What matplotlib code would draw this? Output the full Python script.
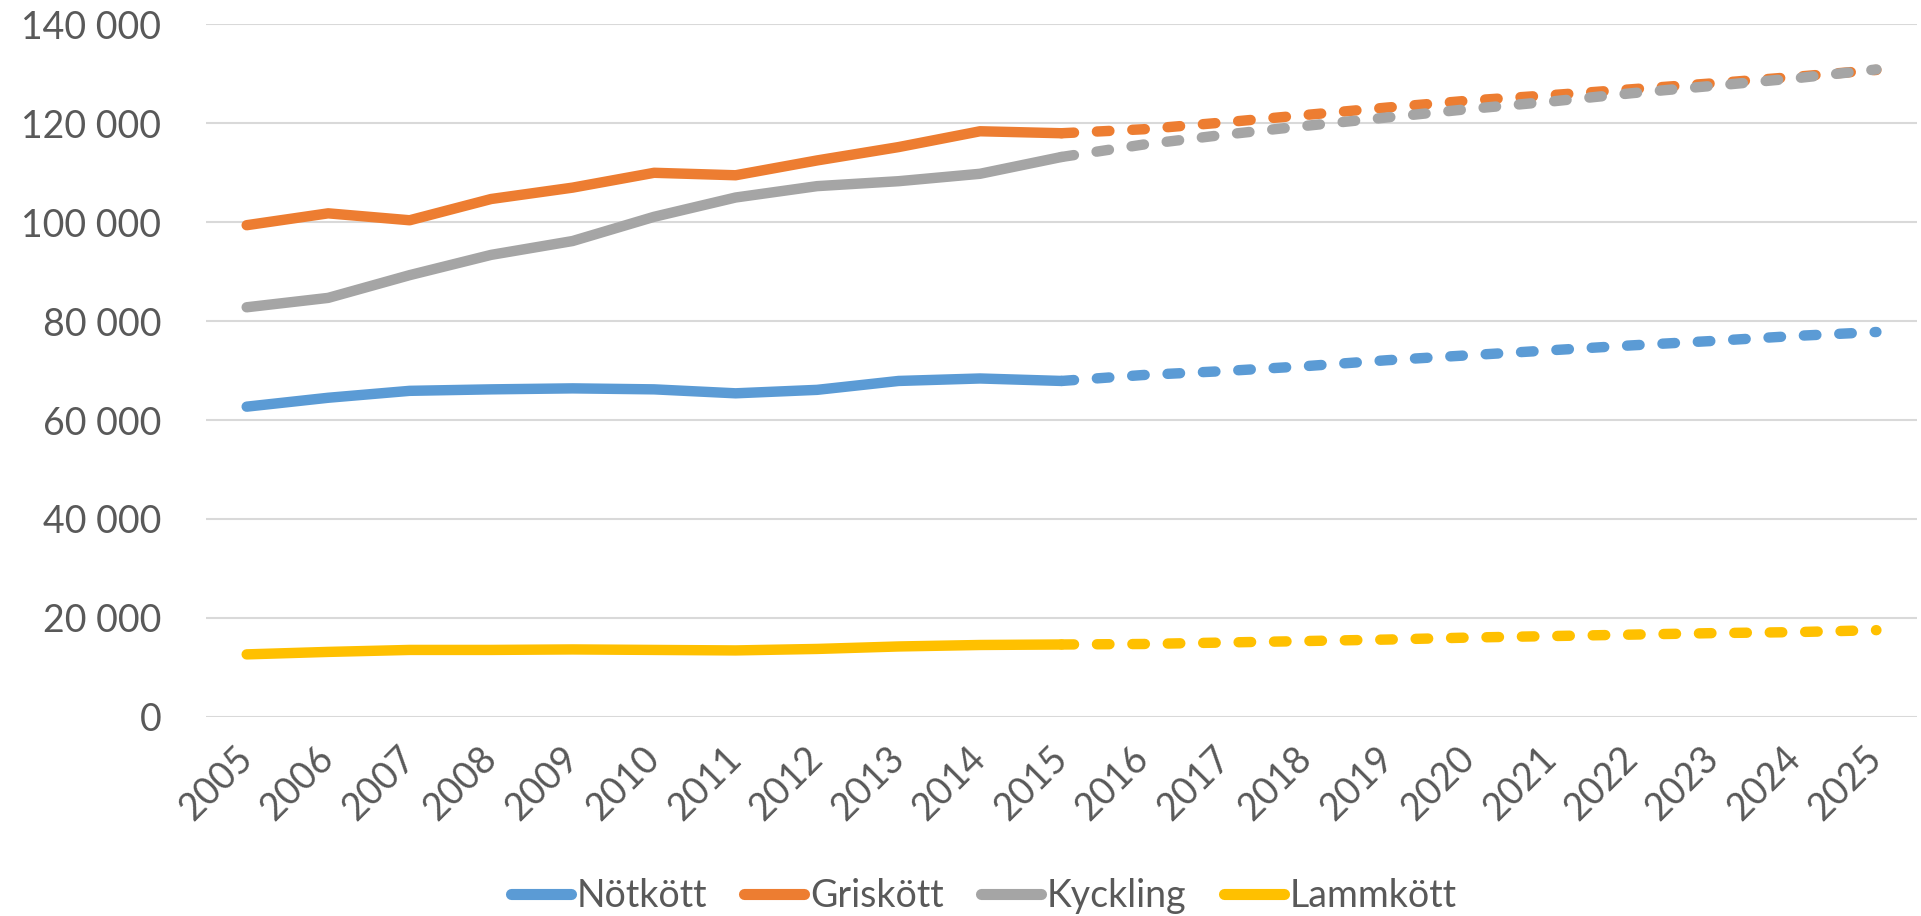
import matplotlib.pyplot as plt
import numpy as np
from matplotlib.ticker import FuncFormatter
from matplotlib.lines import Line2D

plt.rcParams['font.family'] = ['Lato', 'DejaVu Sans']

years = [str(y) for y in range(2005, 2026)]
# 2005-2015 observed, 2015-2025 forecast (dashed)
notkott = [62700, 64500, 65900, 66200, 66400, 66200, 65400, 66100, 67900, 68400, 67900,
           69100, 69900, 70900, 72100, 73100, 74100, 75100, 76000, 77000, 77800]
griskott = [99400, 101800, 100400, 104700, 107000, 110000, 109500, 112500, 115200, 118400, 118000,
            118800, 120200, 121700, 123200, 124600, 125700, 126900, 128100, 129400, 130800]
kyckling = [82800, 84700, 89300, 93400, 96200, 101100, 105000, 107300, 108300, 109800, 113200,
            115700, 117700, 119500, 121200, 122900, 124400, 126100, 127600, 129100, 130900]
lammkott = [12600, 13100, 13500, 13500, 13600, 13500, 13400, 13700, 14200, 14500, 14600,
            14700, 15000, 15300, 15600, 16000, 16300, 16600, 16900, 17100, 17500]

series = [("Nötkött", notkott, "#5B9BD5"),
          ("Griskött", griskott, "#ED7D31"),
          ("Kyckling", kyckling, "#A5A5A5"),
          ("Lammkött", lammkott, "#FFC000")]

split = years.index("2015")
text_color = "#595959"

fig = plt.figure(figsize=(19.21, 9.16), dpi=100)
ax = fig.add_axes([0.1072, 0.2176, 0.8908, 0.7557])

x = np.arange(len(years))
handles = []
for name, vals, col in series:
    ax.plot(x[:split + 1], vals[:split + 1], color=col, linewidth=7.5,
            solid_capstyle='round', solid_joinstyle='round', zorder=3)
    ax.plot(x[split:], vals[split:], color=col, linewidth=7.5, dashes=(1.2, 2.2),
            dash_capstyle='round', zorder=3)
    handles.append(Line2D([0], [0], color=col, linewidth=8, solid_capstyle='round', label=name))

ax.set_xlim(-0.5, len(years) - 0.5)
ax.set_ylim(0, 140000)
ax.set_yticks(np.arange(0, 140001, 20000))
ax.yaxis.set_major_formatter(FuncFormatter(lambda v, p: f"{int(v):,}".replace(",", " ")))
ax.set_xticks(x)
ax.set_xticklabels(years, rotation=45, ha='right', va='center', rotation_mode='anchor')

ax.grid(axis='y', color='#D9D9D9', linewidth=1.5, zorder=0)
for s in ax.spines.values():
    s.set_visible(False)
ax.tick_params(axis='both', length=0, labelsize=27, colors=text_color)
ax.tick_params(axis='y', pad=32)
ax.tick_params(axis='x', pad=26)

fig.legend(handles=handles, loc='center', bbox_to_anchor=(0.512, 0.022), ncol=4,
           frameon=False, fontsize=27, labelcolor=text_color, handlelength=1.6,
           handletextpad=0.15, columnspacing=1.0)

fig.savefig("out.png", dpi=100, facecolor='white')
